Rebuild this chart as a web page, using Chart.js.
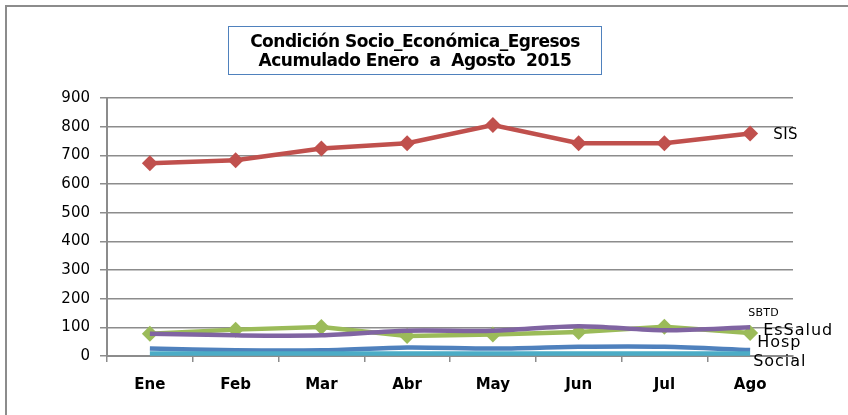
<!DOCTYPE html>
<html>
<head>
<meta charset="utf-8">
<script src="https://cdn.jsdelivr.net/npm/chart.js@4"></script>
<style>
  html, body { margin: 0; padding: 0; background: #fff; overflow: hidden; }
  #wrap { position: relative; width: 848px; height: 415px; overflow: hidden; }
  #frame { position: absolute; left: 5px; top: 5px; width: 1000px; height: 600px; border: 2px solid #8c8c8c; box-sizing: border-box; }
  #title { position: absolute; left: 228px; top: 26px; width: 374px; height: 49px; border: 1.5px solid #4f81bd; box-sizing: border-box;
           font-family: "DejaVu Sans", sans-serif; font-weight: bold; font-size: 17px; line-height: 19px; text-align: center; padding-top: 5px; color: #000; letter-spacing: -0.5px; white-space: nowrap; }
  canvas { position: absolute; left: 0; top: 0; }
</style>
</head>
<body>
<div id="wrap">
  <div id="frame"></div>
  <canvas id="c" width="848" height="415"></canvas>
  <div id="title">Condición Socio_Económica_Egresos<br>Acumulado Enero&nbsp; a&nbsp; Agosto&nbsp; 2015</div>
</div>
<script>
const months = ["Ene", "Feb", "Mar", "Abr", "May", "Jun", "Jul", "Ago"];
const yTicks = [0, 100, 200, 300, 400, 500, 600, 700, 800, 900];
const sis     = [672, 683, 724, 742, 806, 742, 742, 776];
const essalud = [78, 92, 101, 70, 75, 84, 102, 80];
const sbtd    = [78, 72, 72, 88, 88, 104, 90, 100];
const hosp    = [26, 20, 20, 30, 26, 32, 32, 21];
const social  = [9, 9, 9, 9, 9, 9, 9, 9];
const seriesNames = ["SIS", "EsSalud", "SBTD", "Hosp", "Social"];

const labelStyles = {
  "SIS":     { dx: 23, dy: 2,   size: 15, spacing: 0.5 },
  "SBTD":    { dx: -2, dy: -14, size: 11, spacing: 0.3 },
  "EsSalud": { dx: 13, dy: -2,  size: 16, spacing: 1 },
  "Hosp":    { dx: 7,  dy: -7,  size: 16, spacing: 1 },
  "Social":  { dx: 3,  dy: 8,   size: 16, spacing: 1 }
};

const endLabels = {
  id: 'endLabels',
  afterDatasetsDraw(chart) {
    const ctx = chart.ctx;
    chart.data.datasets.forEach((ds, i) => {
      const meta = chart.getDatasetMeta(i);
      const pt = meta.data[meta.data.length - 1];
      const st = labelStyles[ds.label];
      ctx.save();
      ctx.font = st.size + 'px "DejaVu Sans", sans-serif';
      ctx.letterSpacing = st.spacing + 'px';
      ctx.fillStyle = '#000';
      ctx.textAlign = 'left';
      ctx.textBaseline = 'middle';
      ctx.fillText(ds.label, pt.x + st.dx, pt.y + st.dy);
      ctx.restore();
    });
  }
};

new Chart(document.getElementById('c'), {
  type: 'line',
  data: {
    labels: months,
    datasets: [
      { label: "SIS", data: sis, borderColor: '#c0504d', backgroundColor: '#c0504d', borderWidth: 4.5,
        pointStyle: 'rectRot', pointRadius: 8, pointBorderWidth: 0, tension: 0, order: 1 },
      { label: "EsSalud", data: essalud, borderColor: '#9bbb59', backgroundColor: '#9bbb59', borderWidth: 4.5,
        pointStyle: 'rectRot', pointRadius: 8, pointBorderWidth: 0, tension: 0, order: 3 },
      { label: "SBTD", data: sbtd, borderColor: '#8064a2', backgroundColor: '#8064a2', borderWidth: 4.5,
        pointRadius: 0, tension: 0.3, order: 2 },
      { label: "Hosp", data: hosp, borderColor: '#4f81bd', backgroundColor: '#4f81bd', borderWidth: 4.5,
        pointRadius: 0, tension: 0.3, order: 5 },
      { label: "Social", data: social, borderColor: '#4bacc6', backgroundColor: '#4bacc6', borderWidth: 4.5,
        pointRadius: 0, tension: 0.3, order: 4 }
    ]
  },
  options: {
    responsive: false,
    animation: false,
    layout: { padding: { left: 0, top: 98, right: 55, bottom: 0 } },
    plugins: { legend: { display: false }, title: { display: false }, tooltip: { enabled: false } },
    scales: {
      y: {
        min: 0, max: 900,
        afterFit: s => { s.width = 107; },
        afterBuildTicks: s => { s.ticks = yTicks.map(v => ({ value: v })); },
        grid: { color: '#8c8c8c', lineWidth: 1.5, tickLength: 7, drawTicks: true },
        border: { color: '#8c8c8c', width: 2 },
        ticks: { padding: 10, color: '#000', font: { family: 'DejaVu Sans', size: 15 } }
      },
      x: {
        offset: true,
        afterFit: s => { s.height = 59; },
        grid: { offset: true, drawOnChartArea: false, drawTicks: true, tickLength: 6, color: '#8c8c8c', lineWidth: 1.5 },
        border: { color: '#8c8c8c', width: 2 },
        ticks: { padding: 14, color: '#000', font: { family: 'DejaVu Sans', size: 15, weight: 'bold' } }
      }
    }
  },
  plugins: [endLabels]
});
</script>
</body>
</html>
